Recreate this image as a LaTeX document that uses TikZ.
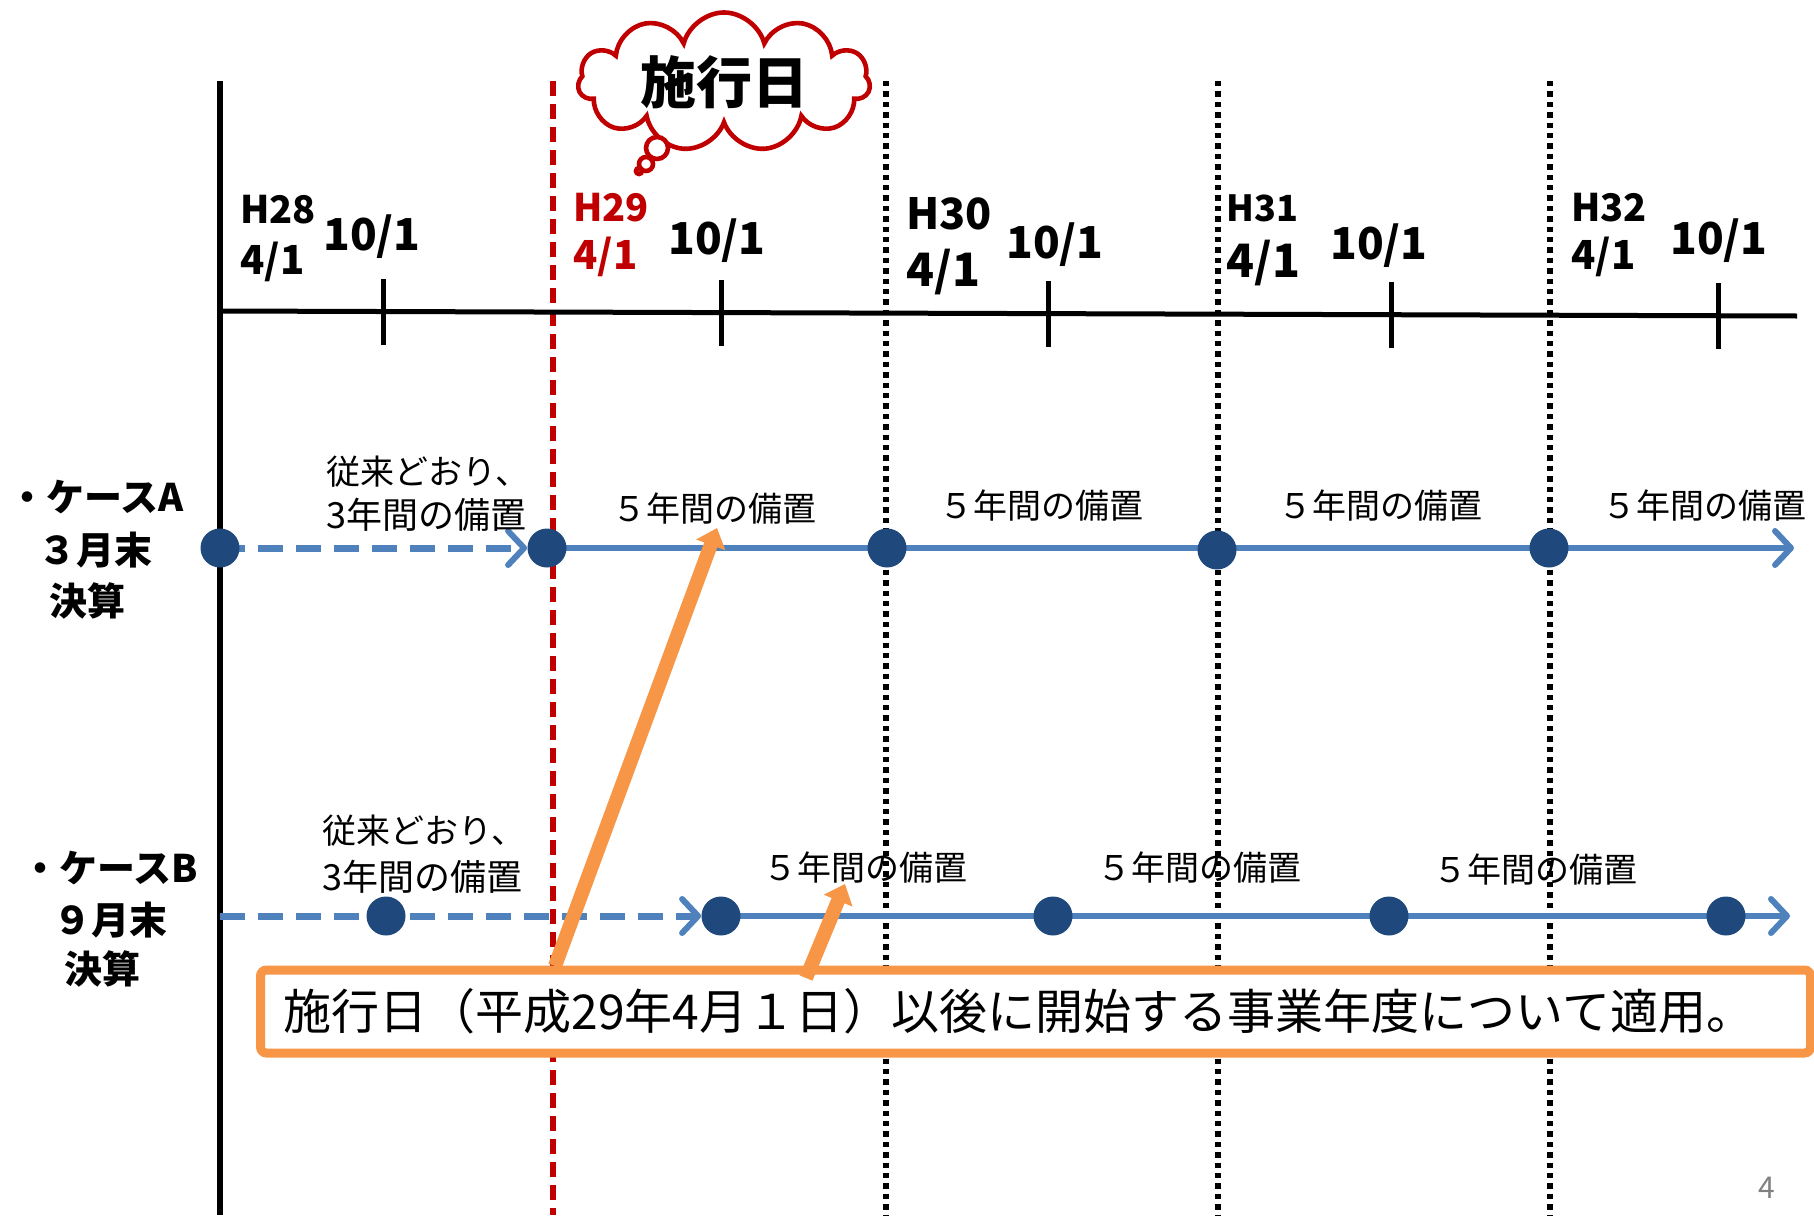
\documentclass[tikz,border=0pt]{standalone}
\usepackage{fontspec}
\setmainfont{Noto Sans CJK JP}
\usetikzlibrary{arrows.meta,shapes.symbols}
\definecolor{bl}{HTML}{4F81BD}
\definecolor{dk}{HTML}{1F497D}
\definecolor{org}{HTML}{F79646}
\definecolor{rd}{HTML}{C00000}
\newcommand\myfs[1]{\fontsize{#1}{#1}\selectfont}
\pgfdeclarelayer{bg}
\pgfsetlayers{bg,main}
\tikzset{
  axisline/.style={line width=3pt,black},
  tline/.style={line width=2.5pt,black},
  redline/.style={line width=2.8pt,rd,dash pattern=on 7.5pt off 4pt},
  dotline/.style={line width=2.7pt,black,dash pattern=on 2.7pt off 2.5pt},
  dot/.style={circle,fill=dk,inner sep=0pt,minimum size=19.5pt},
  bldash/.style={line width=3.5pt,bl,dash pattern=on 12.5pt off 6.5pt,-{Straight Barb[length=8pt,width=17pt,round,line width=3pt]}},
  blsolid/.style={line width=3pt,bl,-{Straight Barb[length=8pt,width=17pt,round]}},
  orarrow/.style={line width=7pt,org,-{Triangle[length=9pt,width=15pt]}},
  dlab/.style={font=\myfs{20pt}\bfseries,inner sep=0pt,anchor=west},
  hlab/.style={font=\myfs{19pt}\bfseries,inner sep=0pt,anchor=west},
  olab/.style={font=\myfs{22pt}\bfseries,inner sep=0pt},
  smalltext/.style={font=\myfs{17pt},inner sep=0pt},
  caselab/.style={font=\myfs{19pt}\bfseries,inner sep=0pt},
  bubble/.style={circle,draw=rd,line width=2.3pt,fill=white,inner sep=0pt},
}
\begin{document}
\begin{tikzpicture}[x=0.5pt,y=-0.5pt]
\useasboundingbox (0,0) rectangle (1814,1215);
% vertical lines
\coordinate (axT) at (220,81); \coordinate (axB) at (220,1215);
\coordinate (rT) at (553,81); \coordinate (rB) at (553,1215);
\coordinate (d1T) at (886,81); \coordinate (d1B) at (886,1215);
\coordinate (d2T) at (1218,81); \coordinate (d2B) at (1218,1215);
\coordinate (d3T) at (1550,81); \coordinate (d3B) at (1550,1215);
\coordinate (tlL) at (220,311); \coordinate (tlR) at (1797,316);
\begin{pgfonlayer}{bg}
\draw[dotline] (d1T) -- (d1B);
\draw[dotline] (d2T) -- (d2B);
\draw[dotline] (d3T) -- (d3B);
\draw[redline] (rT) -- (rB);
\draw[axisline] (axT) -- (axB);
\draw[tline] (tlL) -- (tlR);
\foreach \x/\y in {383/312,721/313,1048/314,1391/315,1718/316}
  \draw[tline] (\x,\y-33) -- (\x,\y+33);
\end{pgfonlayer}
% timeline labels
\node[hlab] (h28) at (240,210) {H28};
\node[dlab] (h28d) at (240,262) {4/1};
\node[olab] (o1) at (372,237) {10/1};
\node[hlab,text=rd] (h29) at (573,208) {H29};
\node[dlab,text=rd] (h29d) at (573,257) {4/1};
\node[olab] (o2) at (717,241) {10/1};
\node[hlab,font=\myfs{21.5pt}\bfseries] (h30) at (906,214) {H30};
\node[dlab,font=\myfs{23pt}\bfseries] (h30d) at (906,272) {4/1};
\node[olab] (o3) at (1055,245) {10/1};
\node[hlab,font=\myfs{18pt}\bfseries] (h31) at (1226,208) {H31};
\node[dlab,font=\myfs{23pt}\bfseries] (h31d) at (1226,263) {4/1};
\node[olab] (o4) at (1379,246) {10/1};
\node[hlab] (h32) at (1571,208) {H32};
\node[dlab] (h32d) at (1571,257) {4/1};
\node[olab] (o5) at (1719,241) {10/1};
% cloud
\node[cloud,draw=rd,line width=2.3pt,fill=white,cloud puffs=11,aspect=2.6,
  minimum width=146pt,minimum height=57pt,inner sep=0pt,
  font=\myfs{28pt}\bfseries] (cloud) at (724,82) {施行日};
\node[bubble,minimum size=11pt] (bub1) at (657,148) {};
\node[bubble,minimum size=7pt] (bub2) at (646,164) {};
\node[bubble,minimum size=3pt] (bub3) at (639,171) {};
% case labels
\node[caselab] (ca1) at (96,497) {・ケースA};
\node[caselab] (ca2) at (95,550) {３月末};
\node[caselab] (ca3) at (87,601) {決算};
\node[caselab] (cb1) at (110,868) {・ケースB};
\node[caselab] (cb2) at (110,920) {９月末};
\node[caselab] (cb3) at (102,969) {決算};
% row A
\node[dot] (a0) at (220,548) {};
\node[dot] (a1) at (547,548) {};
\node[dot] (a2) at (887,548) {};
\node[dot] (a3) at (1217,550) {};
\node[dot] (a4) at (1549,548) {};
\coordinate (aEnd) at (1794,548);
\begin{pgfonlayer}{bg}
\draw[bldash] (a0.center) -- (a1.west);
\draw[blsolid] (a1.center) -- (aEnd);
\end{pgfonlayer}
\node[smalltext,anchor=west] (ta1) at (326,472) {従来どおり、};
\node[smalltext,anchor=west,font=\myfs{18pt}] (ta2) at (326,515) {3年間の備置};
\node[smalltext] (fa1) at (714,509) {５年間の備置};
\node[smalltext] (fa2) at (1041,506) {５年間の備置};
\node[smalltext] (fa3) at (1380,506) {５年間の備置};
\node[smalltext] (fa4) at (1704,506) {５年間の備置};
% row B
\coordinate (bS) at (220,916);
\node[dot] (b0) at (386,916) {};
\node[dot] (b1) at (721,916) {};
\node[dot] (b2) at (1053,916) {};
\node[dot] (b3) at (1389,916) {};
\node[dot] (b4) at (1726,916) {};
\coordinate (bEnd) at (1790,916);
\begin{pgfonlayer}{bg}
\draw[bldash] (bS) -- (b1.west);
\draw[blsolid] (b1.center) -- (bEnd);
\end{pgfonlayer}
\node[smalltext,anchor=west] (tb1) at (322,831) {従来どおり、};
\node[smalltext,anchor=west,font=\myfs{18pt}] (tb2) at (322,877) {3年間の備置};
\node[smalltext] (fb1) at (865,868) {５年間の備置};
\node[smalltext] (fb2) at (1199,868) {５年間の備置};
\node[smalltext] (fb3) at (1535,870) {５年間の備置};
% box
\node[draw=org,line width=4.5pt,fill=white,rounded corners=3pt,
  minimum width=775pt,minimum height=41.5pt,text width=752pt,inner xsep=11.5pt,
  align=left,font=\myfs{24pt}] (box) at (1035.5,1011.5)
  {施行日（平成29年4月１日）以後に開始する事業年度について適用。};
% orange arrows
\coordinate (or1s) at (555,966);
\coordinate (or1e) at (717,528);
\coordinate (or2s) at (806,978);
\coordinate (or2e) at (845,884);
\draw[orarrow] (or1s) -- (or1e);
\draw[orarrow] (or2s) -- (or2e);
% page number
\node[font=\myfs{15pt},text=gray,inner sep=0pt] (pg) at (1767,1188) {4};
\end{tikzpicture}
\end{document}
